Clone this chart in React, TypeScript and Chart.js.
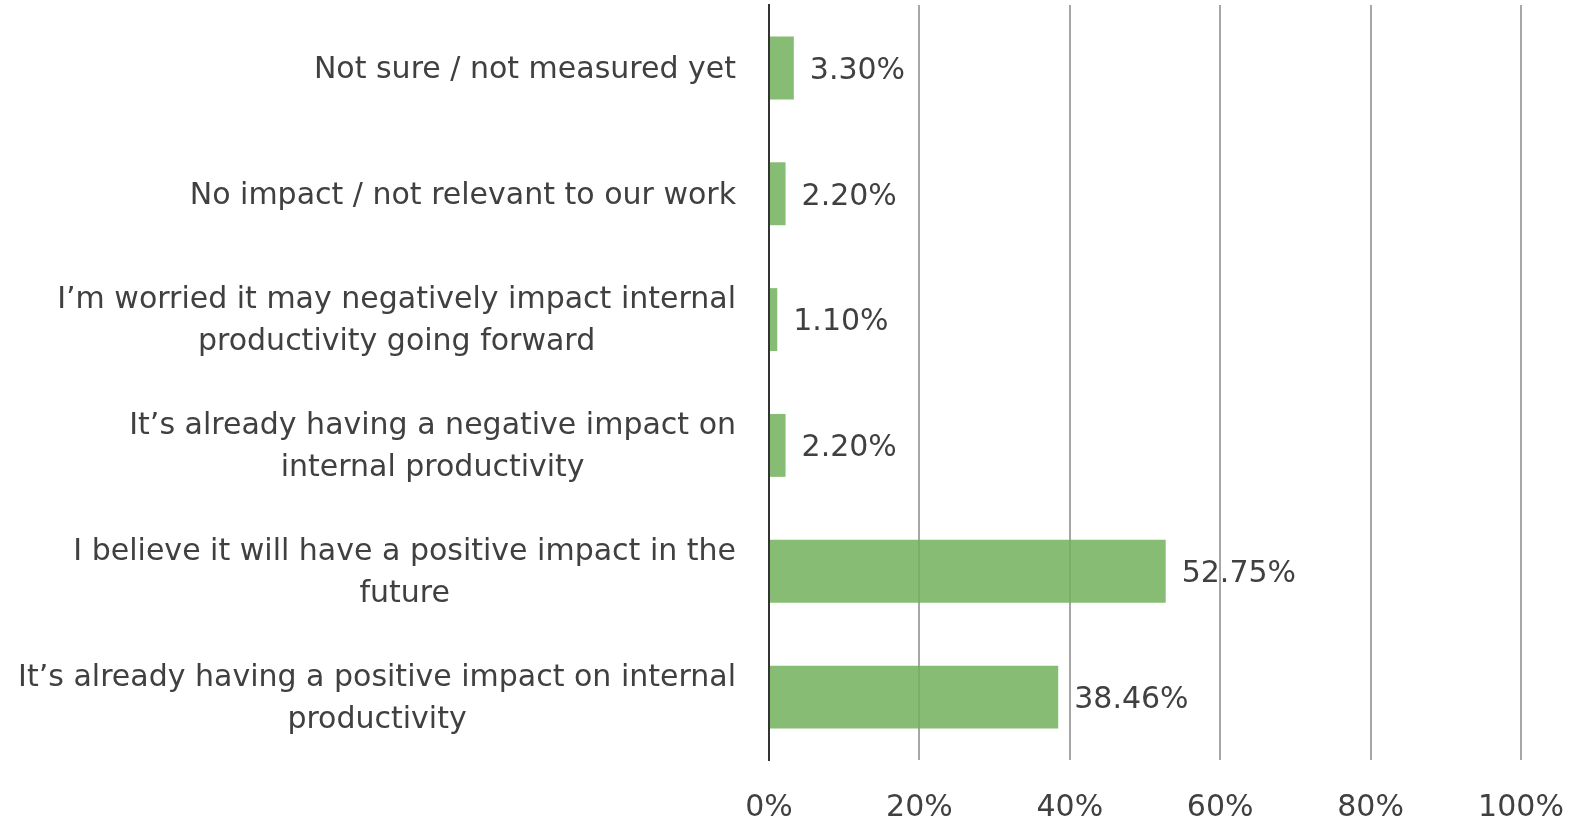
import React, { useEffect, useRef } from 'react';
import { Chart, registerables } from 'chart.js';
Chart.register(...registerables);

const categories: string[][] = [
  ['Not sure / not measured yet'],
  ['No impact / not relevant to our work'],
  ['I’m worried it may negatively impact internal', 'productivity going forward'],
  ['It’s already having a negative impact on', 'internal productivity'],
  ['I believe it will have a positive impact in the', 'future'],
  ['It’s already having a positive impact on internal', 'productivity'],
];
const values = [3.3, 2.2, 1.1, 2.2, 52.75, 38.46];
const valueLabels = ['3.30%', '2.20%', '1.10%', '2.20%', '52.75%', '38.46%'];
const xTickValues = [0, 20, 40, 60, 80, 100];

const FONT = '"DejaVu Sans", sans-serif';
const FS = 30;
const LH = 42;
const TEXT = '#404040';

const labelPlugin = {
  id: 'customLabels',
  afterDraw(chart: any) {
    const ctx = chart.ctx;
    const y = chart.scales.y;
    const x = chart.scales.x;
    const left = chart.chartArea.left;
    ctx.save();
    ctx.font = `${FS}px ${FONT}`;
    ctx.fillStyle = TEXT;
    ctx.textBaseline = 'middle';
    categories.forEach((lines, i) => {
      const cy = y.getPixelForValue(i) + 2;
      const w = Math.max(...lines.map((l) => ctx.measureText(l).width));
      const cx = left - 33 - w / 2;
      ctx.textAlign = 'center';
      lines.forEach((l, j) => ctx.fillText(l, cx, cy + (j - (lines.length - 1) / 2) * LH));
    });
    ctx.textAlign = 'left';
    values.forEach((v, i) => {
      ctx.fillText(valueLabels[i], x.getPixelForValue(v) + 16, y.getPixelForValue(i) + 3);
    });
    ctx.restore();
  },
};

export default function App() {
  const ref = useRef<HTMLCanvasElement>(null);
  useEffect(() => {
    document.body.style.margin = '0';
    const chart = new Chart(ref.current!, {
      type: 'bar',
      data: {
        labels: categories.map((c) => c.join(' ')),
        datasets: [
          {
            data: values,
            backgroundColor: 'rgba(113,176,90,0.85)',
            barPercentage: 0.5,
            categoryPercentage: 1,
          },
        ],
      },
      options: {
        indexAxis: 'y',
        animation: false,
        responsive: false,
        layout: { padding: { left: 769, right: 54, top: 5, bottom: 0 } },
        plugins: { legend: { display: false }, tooltip: { enabled: false } },
        scales: {
          x: {
            min: 0,
            max: 100,
            afterBuildTicks: (s: any) => {
              s.ticks = xTickValues.map((v) => ({ value: v }));
            },
            afterFit: (s: any) => {
              s.paddingLeft = 0;
              s.paddingRight = 0;
              s.height = 63;
            },
            ticks: {
              callback: (v: any) => v + '%',
              color: TEXT,
              font: { family: FONT, size: FS },
              padding: 30,
              maxRotation: 0,
            },
            grid: {
              color: (c: any) => (c.tick && c.tick.value === 0 ? '#333333' : '#a6a6a6'),
              lineWidth: 2,
              drawTicks: false,
            },
            border: { display: false },
          },
          y: {
            ticks: { display: false },
            grid: { display: false, drawTicks: false },
            border: { display: true, color: '#333333', width: 2 },
          },
        },
      },
      plugins: [labelPlugin],
    });
    return () => chart.destroy();
  }, []);
  return <canvas ref={ref} width={1575} height={823} style={{ display: 'block' }} />;
}
